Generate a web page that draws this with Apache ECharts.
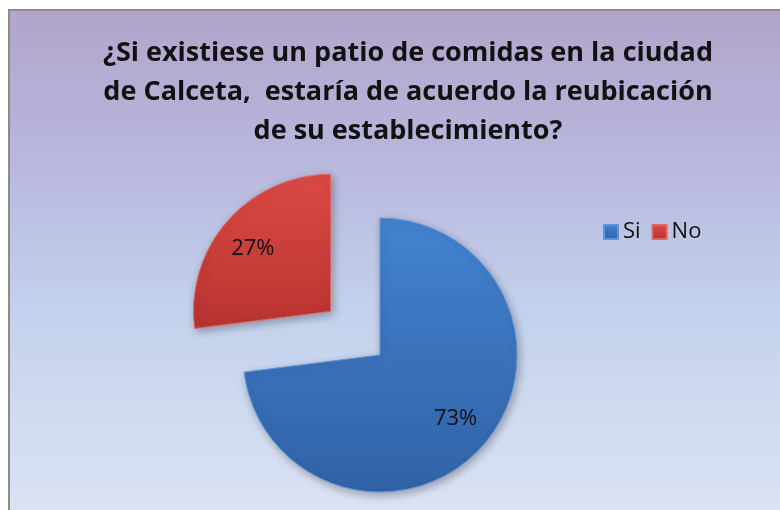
<!DOCTYPE html>
<html>
<head>
<meta charset="utf-8">
<script src="https://cdn.jsdelivr.net/npm/echarts@6/dist/echarts.min.js"></script>
<style>
html,body{margin:0;padding:0;background:#fff;}
#chart{width:780px;height:510px;}
</style>
</head>
<body>
<div id="chart"></div>
<script>
const titleText = '¿Si existiese un patio de comidas en la ciudad\nde Calceta,  estaría de acuerdo la reubicación\nde su establecimiento?';
const categories = ['Si', 'No'];
const values = [73, 27];

const chart = echarts.init(document.getElementById('chart'));

const sliceStyles = [
  { color: { type: 'linear', x: 0, y: 0, x2: 0, y2: 1, colorStops: [
      { offset: 0, color: '#4383D0' }, { offset: 1, color: '#3162A6' } ] },
    borderColor: '#5A95DA' },
  { color: { type: 'linear', x: 0, y: 0, x2: 0, y2: 1, colorStops: [
      { offset: 0, color: '#DC4A45' }, { offset: 1, color: '#B83330' } ] },
    borderColor: '#E06560' }
];
const labelOffsets = [[22, 16], [-24, -15]];

const data = categories.map((c, i) => ({
  name: c,
  value: values[i],
  selected: i === 1,
  itemStyle: Object.assign({
    borderWidth: 1,
    shadowBlur: 8,
    shadowOffsetX: 2,
    shadowOffsetY: 3,
    shadowColor: 'rgba(0,0,0,0.3)'
  }, sliceStyles[i]),
  label: { offset: labelOffsets[i] },
  select: { label: { offset: labelOffsets[i] }, itemStyle: sliceStyles[i] }
}));

chart.setOption({
  backgroundColor: '#ffffff',
  animation: false,
  graphic: [{
    type: 'rect',
    z: -10,
    silent: true,
    shape: { x: 9, y: 10, width: 780, height: 510 },
    style: {
      fill: { type: 'linear', x: 0, y: 0, x2: 0, y2: 1, colorStops: [
        { offset: 0, color: '#B3A4CB' },
        { offset: 0.31, color: '#B8B8DD' },
        { offset: 0.57, color: '#C3D0EC' },
        { offset: 0.77, color: '#CEDAF0' },
        { offset: 1, color: '#DCE3F3' } ] },
      stroke: '#8C8C8C',
      lineWidth: 2
    }
  }],
  title: {
    text: titleText,
    left: 403,
    top: 29,
    textAlign: 'center',
    textStyle: {
      fontFamily: 'Open Sans',
      fontWeight: 'bold',
      fontSize: 27,
      lineHeight: 39,
      color: '#111'
    }
  },
  legend: {
    data: categories,
    left: 603,
    top: 221,
    padding: 0,
    itemWidth: 14,
    itemHeight: 14,
    itemGap: 11,
    icon: 'rect',
    textStyle: { fontFamily: 'Open Sans', fontSize: 22, color: '#111' }
  },
  series: [{
    type: 'pie',
    center: [380, 355],
    radius: 137,
    startAngle: 90,
    clockwise: true,
    selectedMode: 'single',
    selectedOffset: 66,
    avoidLabelOverlap: false,
    emphasis: { scale: false, disabled: true },
    label: {
      show: true,
      position: 'inside',
      formatter: '{d}%',
      fontFamily: 'Open Sans',
      fontSize: 22,
      color: '#111'
    },
    labelLine: { show: false },
    data: data
  }]
});
</script>
</body>
</html>
